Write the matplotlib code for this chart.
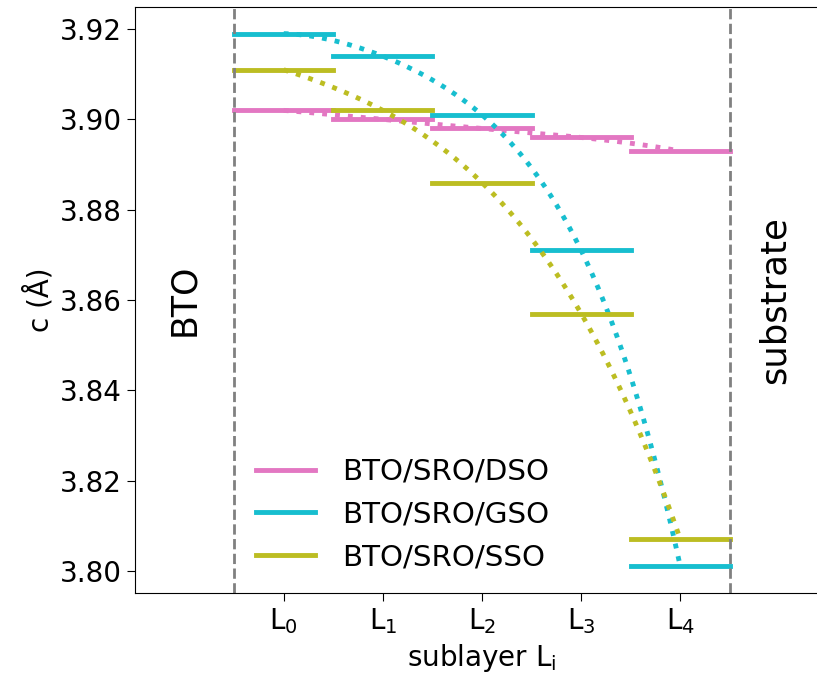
import numpy as np
import matplotlib
matplotlib.use("Agg")
import matplotlib.pyplot as plt

# Data
layers = [0, 1, 2, 3, 4]
tick_labels = ["L$_0$", "L$_1$", "L$_2$", "L$_3$", "L$_4$"]
labels = ["BTO/SRO/DSO", "BTO/SRO/GSO", "BTO/SRO/SSO"]
colors = ["tab:pink", "tab:cyan", "tab:olive"]
c_dso = [3.902, 3.900, 3.898, 3.896, 3.893]
c_gso = [3.919, 3.914, 3.901, 3.871, 3.801]
c_sso = [3.911, 3.902, 3.886, 3.857, 3.807]
series = [c_dso, c_gso, c_sso]

fig = plt.figure(figsize=(8.17, 6.75), dpi=100)
ax = fig.add_axes([135/817, 1-593/675, (829-135)/817, (593-7)/675])

lw = 3.5
for vals, col, lab in zip(series, colors, labels):
    x = np.array(layers, dtype=float)
    y = np.array(vals)
    for i, (xi, yi) in enumerate(zip(x, y)):
        ax.plot([xi-0.5, xi+0.5], [yi, yi], color=col, lw=lw,
                label=lab if i == 0 else None, solid_capstyle='projecting')
    coef = np.polyfit(x, y, 4)
    xs = np.linspace(x[0], x[-1], 200)
    ax.plot(xs, np.polyval(coef, xs), color=col, lw=lw, ls=':')

ax.axvline(-0.5, color='gray', ls='--', lw=2)
ax.axvline(4.5, color='gray', ls='--', lw=2)

ax.text(-1.0, 3.86, "BTO", rotation=90, ha='center', va='center', fontsize=25)
ax.text(4.95, 3.86, "substrate", rotation=90, ha='center', va='center', fontsize=25.5)

ax.set_xlim(-1.5, 5.5)
ax.set_ylim(3.7951, 3.9249)
ax.set_xticks(layers)
ax.set_xticklabels(tick_labels)
ax.set_yticks([3.80, 3.82, 3.84, 3.86, 3.88, 3.90, 3.92])
ax.tick_params(labelsize=20, length=6)
ax.set_xlabel("sublayer L$_\\mathrm{i}$", fontsize=20, labelpad=4)
ax.set_ylabel("c (Å)", fontsize=20)

ax.legend(loc='lower left', bbox_to_anchor=(0.157, 0.017), borderaxespad=0,
          frameon=False, fontsize=21.2, handletextpad=0.95)

fig.savefig("out.png", dpi=100)
